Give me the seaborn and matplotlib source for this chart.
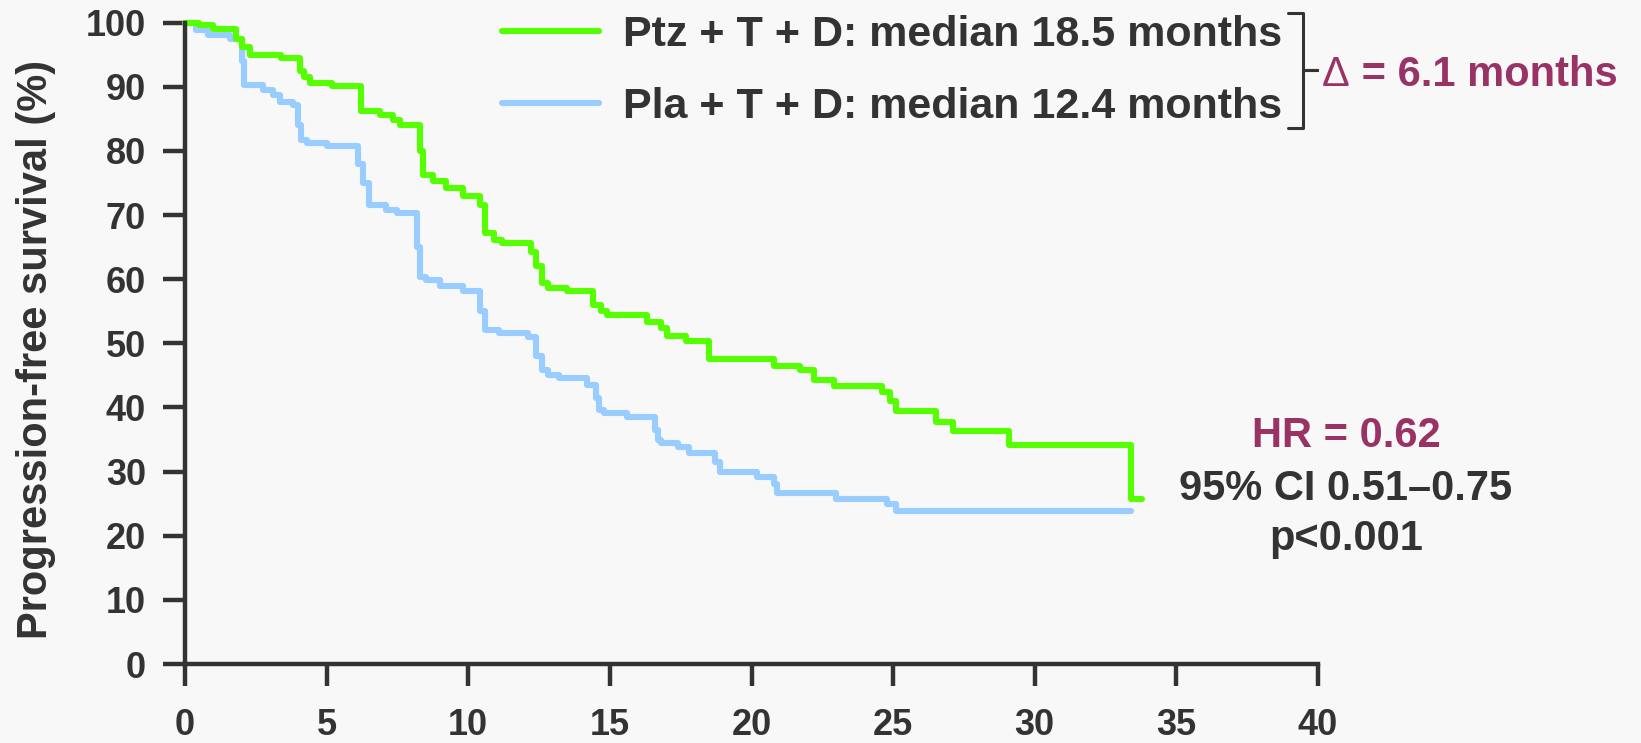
import numpy as np
import pandas as pd
import matplotlib
matplotlib.use("Agg")
import matplotlib.pyplot as plt
from matplotlib.lines import Line2D
import seaborn as sns

# Kaplan-Meier step data (months, % progression-free)
ptz_time = [0, 0.5, 1.0, 1.8, 2.0, 2.3, 3.4, 4.05, 4.2, 4.4, 5.2, 6.2, 6.9, 7.35, 7.6,
            8.3, 8.4, 8.75, 9.2, 9.8, 10.4, 10.6, 10.9, 11.2, 12.2, 12.4, 12.6, 12.8,
            13.5, 14.4, 14.7, 14.9, 16.3, 16.8, 17.0, 17.7, 18.5, 20.8, 21.7, 22.2,
            22.9, 24.6, 24.9, 25.1, 26.5, 27.1, 29.1, 33.4, 33.8]
ptz_pfs = [100, 99.6, 99.0, 97.5, 96.2, 95.0, 94.5, 92.5, 91.5, 90.6, 90.1, 86.2, 85.6,
           84.9, 84.1, 80.0, 76.3, 75.3, 74.3, 73.0, 71.5, 67.2, 66.1, 65.6, 64.3, 62.0,
           59.4, 58.6, 58.1, 56.0, 55.0, 54.4, 53.4, 52.4, 51.1, 50.3, 47.6, 46.4, 45.9,
           44.3, 43.4, 42.4, 41.0, 39.4, 37.8, 36.4, 34.2, 25.8, 25.8]

pla_time = [0, 0.4, 0.8, 1.6, 2.0, 2.1, 2.75, 3.1, 3.35, 3.8, 4.0, 4.1, 4.3, 5.0, 6.1,
            6.3, 6.5, 7.1, 7.5, 8.2, 8.3, 8.5, 9.0, 9.8, 10.4, 10.6, 11.1, 12.1, 12.4,
            12.6, 12.8, 13.2, 14.2, 14.5, 14.6, 14.8, 15.6, 16.6, 16.7, 16.8, 17.4,
            17.8, 18.7, 18.9, 20.2, 20.8, 20.9, 23.0, 24.8, 25.1, 33.4]
pla_pfs = [100, 98.9, 98.1, 97.5, 94.0, 90.3, 89.5, 88.8, 87.7, 87.2, 84.0, 81.7, 81.2,
           80.7, 78.0, 75.0, 71.6, 70.8, 70.3, 65.0, 60.4, 59.9, 58.9, 58.1, 55.0, 52.1,
           51.6, 51.0, 48.0, 45.9, 45.1, 44.6, 43.5, 41.5, 39.6, 39.2, 38.5, 36.5, 34.9,
           34.4, 33.8, 32.9, 31.5, 30.0, 29.2, 28.0, 26.7, 25.8, 25.0, 23.9, 23.9]

arm_labels = ["Ptz + T + D: median 18.5 months", "Pla + T + D: median 12.4 months"]
arm_colors = ["#55ff00", "#99ccff"]
x_ticks = [0, 5, 10, 15, 20, 25, 30, 35, 40]
y_ticks = [0, 10, 20, 30, 40, 50, 60, 70, 80, 90, 100]
stats_lines = ["HR = 0.62", "95% CI 0.51\u20130.75", "p<0.001"]
delta_symbol = "\u0394"
delta_value = " = 6.1 months"

INK = "#333333"
ACCENT = "#993366"
BG = "#f8f8f8"

sns.set_theme(style="ticks")
plt.rcParams["font.family"] = ["Liberation Sans", "DejaVu Sans"]
plt.rcParams["font.weight"] = "bold"

df = pd.concat([
    pd.DataFrame({"time": ptz_time, "pfs": ptz_pfs, "arm": arm_labels[0]}),
    pd.DataFrame({"time": pla_time, "pfs": pla_pfs, "arm": arm_labels[1]}),
])

W, H = 1641, 743
fig = plt.figure(figsize=(W / 100, H / 100), dpi=100, facecolor=BG)
ax = fig.add_axes([185 / W, 1 - 664 / H, (1318 - 185) / W, (664 - 22.7) / H])
ax.set_facecolor(BG)

# draw the placebo arm first so the pertuzumab arm sits on top
sns.lineplot(data=df, x="time", y="pfs", hue="arm",
             hue_order=[arm_labels[1], arm_labels[0]],
             palette={arm_labels[0]: arm_colors[0], arm_labels[1]: arm_colors[1]},
             estimator=None, drawstyle="steps-post", linewidth=4.4,
             clip_on=False, legend=False, ax=ax)

ax.set_xlim(0, 40)
ax.set_ylim(0, 100)
ax.set_xticks(x_ticks)
ax.set_yticks(y_ticks)
ax.set_xlabel("")
ax.set_ylabel("Progression-free survival (%)", fontsize=30, fontweight="bold", color=INK)
ax.yaxis.set_label_coords(-0.114, 0.49)

sns.despine(ax=ax)
for side in ("left", "bottom"):
    ax.spines[side].set_linewidth(3.2)
    ax.spines[side].set_color(INK)
ax.tick_params(axis="both", length=16, width=3.2, color=INK, labelcolor=INK,
               labelsize=26, direction="out")
ax.tick_params(axis="y", pad=12)
ax.tick_params(axis="x", pad=16)
for lab in ax.get_xticklabels() + ax.get_yticklabels():
    lab.set_fontweight("bold")

# legend with the two arms
handles = [Line2D([], [], color=c, linewidth=4.4) for c in arm_colors]
leg = ax.legend(handles, arm_labels, loc="upper left",
                bbox_to_anchor=(502 / W, 1 - 15 / H), bbox_transform=fig.transFigure,
                frameon=False, fontsize=31, handlelength=2.25, handletextpad=0.55,
                labelspacing=0.74, borderpad=0, borderaxespad=0)
for t in leg.get_texts():
    t.set_color(INK)
    t.set_fontweight("bold")

# bracket joining the two medians
bx0, bx1, bx2 = 1288, 1303, 1317
by0, bym, by1 = 13, 70, 128
bracket_x = [bx0, bx1, bx1, bx2, bx1, bx1, bx0]
bracket_y = [by0, by0, bym, bym, bym, by1, by1]
fig.add_artist(Line2D([x / W for x in bracket_x], [1 - y / H for y in bracket_y],
                      transform=fig.transFigure, color=INK, linewidth=2.2,
                      solid_joinstyle="round"))

# difference in medians: thin delta sign followed by bold text
d_sym = fig.text(1322 / W, 1 - 86 / H, delta_symbol, color=ACCENT, fontsize=30,
                 fontweight="normal", ha="left", va="baseline")
renderer = fig.canvas.get_renderer()
sym_right = d_sym.get_window_extent(renderer).x1
fig.text(sym_right / W, 1 - 86 / H, delta_value, color=ACCENT, fontsize=30,
         fontweight="bold", ha="left", va="baseline")

# hazard ratio summary
stat_colors = [ACCENT, INK, INK]
stat_base = [447, 500, 550]
for s, c, yb in zip(stats_lines, stat_colors, stat_base):
    fig.text(1346 / W, 1 - yb / H, s, color=c, fontsize=30, fontweight="bold",
             ha="center", va="baseline")

fig.savefig("out.png", dpi=100, facecolor=BG)
